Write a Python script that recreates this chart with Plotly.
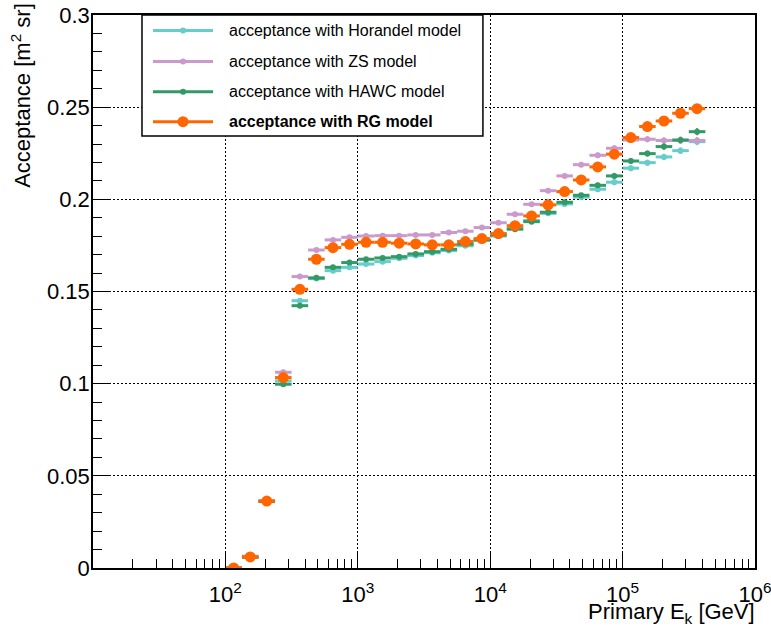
import numpy as np
import plotly.graph_objects as go

# Energy binning: 8 logarithmic bins per decade, from 10^2 to 10^5.625 GeV
bin_edges = np.logspace(2.0, 5.625, 30)
bin_centers = np.sqrt(bin_edges[:-1] * bin_edges[1:])
bin_minus = bin_centers - bin_edges[:-1]
bin_plus = bin_edges[1:] - bin_centers

# Acceptance [m^2 sr] per energy bin for each cosmic-ray spectrum model
acc_horandel = [0.0, 0.0060, 0.0362, 0.1015, 0.1450, 0.1570, 0.1613, 0.1631, 0.1649, 0.1662,
                0.1680, 0.1695, 0.1710, 0.1722, 0.1748, 0.1778, 0.1801, 0.1843, 0.1885, 0.1924,
                0.1975, 0.2012, 0.2055, 0.2093, 0.2169, 0.2199, 0.2230, 0.2264, 0.2313]
acc_zs = [0.0, 0.0064, 0.0366, 0.1062, 0.1581, 0.1725, 0.1780, 0.1794, 0.1801, 0.1803,
          0.1803, 0.1807, 0.1807, 0.1820, 0.1827, 0.1847, 0.1873, 0.1919, 0.1973, 0.2047,
          0.2127, 0.2188, 0.2239, 0.2277, 0.2322, 0.2326, 0.2319, 0.2319, 0.2319]
acc_hawc = [0.0, 0.0058, 0.0360, 0.0997, 0.1423, 0.1574, 0.1631, 0.1657, 0.1675, 0.1682,
            0.1689, 0.1704, 0.1716, 0.1729, 0.1757, 0.1780, 0.1807, 0.1838, 0.1879, 0.1930,
            0.1984, 0.2022, 0.2076, 0.2127, 0.2208, 0.2248, 0.2286, 0.2322, 0.2367]
acc_rg = [0.0, 0.0060, 0.0363, 0.1033, 0.1512, 0.1675, 0.1738, 0.1756, 0.1767, 0.1767,
          0.1762, 0.1758, 0.1753, 0.1753, 0.1771, 0.1787, 0.1814, 0.1857, 0.1910, 0.1970,
          0.2042, 0.2105, 0.2176, 0.2245, 0.2335, 0.2395, 0.2425, 0.2467, 0.2492]

# Statistical uncertainty of the acceptance (MC statistics)
stat_err = [0.0, 0.0003, 0.0006, 0.0010, 0.0010, 0.0010, 0.0010, 0.0010, 0.0010, 0.0010,
            0.0010, 0.0010, 0.0010, 0.0010, 0.0010, 0.0010, 0.0011, 0.0011, 0.0012, 0.0012,
            0.0013, 0.0013, 0.0014, 0.0015, 0.0016, 0.0016, 0.0017, 0.0018, 0.0019]

series_labels = ["acceptance with Horandel model", "acceptance with ZS model",
                 "acceptance with HAWC model", "<b>acceptance with RG model</b>"]
series_values = [acc_horandel, acc_zs, acc_hawc, acc_rg]
series_colors = ["rgb(102,204,204)", "rgb(204,153,204)", "rgb(51,153,102)", "rgb(255,102,0)"]
marker_sizes = [6, 6, 6, 11]

x_major = [10.0 ** e for e in range(2, 7)]
x_major_text = ["10<sup>%d</sup>" % e for e in range(2, 7)]
x_minor = [m * 10.0 ** e for e in range(1, 6) for m in range(2, 10)]
y_major = [0, 0.05, 0.1, 0.15, 0.2, 0.25, 0.3]
y_major_text = ["0", "0.05", "0.1", "0.15", "0.2", "0.25", "0.3"]
y_minor = [round(0.01 * i, 2) for i in range(31)]

fig = go.Figure()
for vals, col, ms, name in zip(series_values, series_colors, marker_sizes, series_labels):
    fig.add_trace(go.Scatter(
        x=bin_centers, y=vals, mode="markers", name=name,
        marker=dict(color=col, size=ms, line=dict(width=0)),
        error_x=dict(type="data", symmetric=False, array=bin_plus, arrayminus=bin_minus,
                     color=col, thickness=3, width=0),
        error_y=dict(type="data", array=stat_err, color=col, thickness=2, width=0),
        showlegend=False,
    ))

axis_common = dict(
    showline=True, linecolor="black", linewidth=1.5, mirror=True,
    ticks="inside", tickcolor="black", tickwidth=1,
    showgrid=True, gridcolor="black", gridwidth=1, griddash="2px,2px",
    zeroline=False, tickfont=dict(size=22, color="black"),
    ticklabeloverflow="allow", automargin=False,
)
fig.update_xaxes(type="log", range=[1, 6.0002], tickmode="array", tickvals=x_major,
                 ticktext=x_major_text, ticklen=17, ticklabelstandoff=6,
                 minor=dict(tickmode="array", tickvals=x_minor, ticks="inside",
                            ticklen=9, tickcolor="black", showgrid=False),
                 **axis_common)
fig.update_yaxes(range=[0, 0.3], tickmode="array", tickvals=y_major,
                 ticktext=y_major_text, ticklen=18, ticklabelstandoff=-3,
                 minor=dict(tickmode="array", tickvals=y_minor, ticks="inside",
                            ticklen=9, tickcolor="black", showgrid=False),
                 **axis_common)

# Legend box drawn in paper coordinates
shapes = [dict(type="rect", xref="paper", yref="paper", x0=0.074, x1=0.589, y0=0.781, y1=1.0,
               line=dict(color="black", width=1.5), fillcolor="white", layer="above")]
annotations = []
legend_rows = [0.972, 0.916, 0.861, 0.807]
for row_y, col, ms, name in zip(legend_rows, series_colors, marker_sizes, series_labels):
    shapes.append(dict(type="line", xref="paper", yref="paper", x0=0.0906, x1=0.1813,
                       y0=row_y, y1=row_y, line=dict(color=col, width=3), layer="above"))
    r = ms / 2.0
    shapes.append(dict(type="circle", xref="paper", yref="paper",
                       xsizemode="pixel", ysizemode="pixel", xanchor=0.136, yanchor=row_y,
                       x0=-r, x1=r, y0=-r, y1=r, fillcolor=col, line=dict(width=0),
                       layer="above"))
    annotations.append(dict(text=name, xref="paper", yref="paper", x=0.2024, y=row_y,
                            xanchor="left", yanchor="middle", showarrow=False,
                            font=dict(size=16, color="black")))

annotations.append(dict(text="Acceptance [m<sup>2</sup> sr]", textangle=-90,
                        xref="paper", yref="paper", x=-0.110, y=1.025,
                        xanchor="center", yanchor="top", showarrow=False,
                        font=dict(size=22, color="black")))
annotations.append(dict(text="Primary E<sub>k</sub> [GeV]", xref="paper", yref="paper",
                        x=1.003, y=-0.052, xanchor="right", yanchor="top", showarrow=False,
                        font=dict(size=22, color="black")))

fig.update_layout(
    width=771, height=628,
    margin=dict(l=93, r=16, t=15, b=60, autoexpand=False),
    plot_bgcolor="white", paper_bgcolor="white",
    font=dict(family="Liberation Sans, Arial, sans-serif", size=22, color="black"),
    showlegend=False,
    shapes=shapes, annotations=annotations,
)

fig.write_html("out.html")
